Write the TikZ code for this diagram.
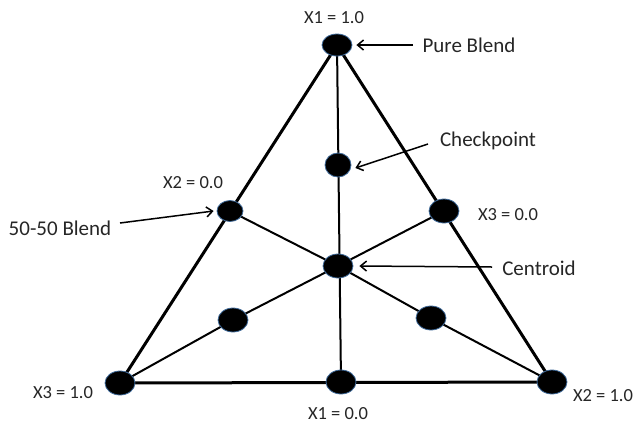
\documentclass[tikz,border=0pt]{standalone}
\usepackage{fontspec}
\setmainfont{Carlito}
\usetikzlibrary{arrows.meta,shapes.geometric}
\definecolor{txt}{HTML}{262626}
\definecolor{rim}{HTML}{3F6A9A}
\tikzset{
  dot/.style={ellipse, fill=black, draw=rim, line width=0.8pt, minimum width=30pt, minimum height=24pt, inner sep=0pt},
  lbl/.style={text=txt, font=\fontsize{18.5}{21}\selectfont, inner sep=0pt},
  wlbl/.style={text=txt, font=\fontsize{21}{24}\selectfont, inner sep=0pt},
  edge3/.style={line width=3pt},
  inner/.style={line width=2pt},
  callout/.style={line width=1.5pt, -{Straight Barb[length=6pt,width=10pt,line width=1.5pt]}},
}
\begin{document}
\begin{tikzpicture}[x=1pt,y=-1pt]
\useasboundingbox (0,0) rectangle (637,424);
% vertices and points
\coordinate (T) at (337,45);
\coordinate (BL) at (120,383);
\coordinate (BR) at (552,382);
\coordinate (BM) at (341,382);
\coordinate (LM) at (230,211);
\coordinate (RM) at (444,211);
\coordinate (C) at (338,266);
\coordinate (CT) at (338,165);
\coordinate (CL) at (233,320);
\coordinate (CR) at (431,318);
% edges
\draw[edge3] (T) -- (BL) -- (BR) -- cycle;
% inner lines
\draw[inner] (T) -- (BM);
\draw[inner] (LM) -- (C) -- (CR) -- (BR);
\draw[inner] (RM) -- (C) -- (CL) -- (BL);
% dots
\node[dot, minimum height=22pt] (nT) at (T) {};
\node[dot] (nBL) at (BL) {};
\node[dot] (nBR) at (BR) {};
\node[dot] (nBM) at (BM) {};
\node[dot, minimum width=26pt, minimum height=21pt] (nLM) at (LM) {};
\node[dot] (nRM) at (RM) {};
\node[dot] (nC) at (C) {};
\node[dot, minimum width=26pt] (nCT) at (CT) {};
\node[dot] (nCL) at (CL) {};
\node[dot] (nCR) at (CR) {};
% labels
\node[lbl] (lX1t) at (334,18) {X1 = 1.0};
\node[wlbl] (lPure) at (469,45) {Pure Blend};
\node[wlbl] (lCheck) at (488,141) {Checkpoint};
\node[lbl] (lX2z) at (193,183) {X2 = 0.0};
\node[wlbl] (l5050) at (60,228) {50-50 Blend};
\node[lbl] (lX3z) at (508,215) {X3 = 0.0};
\node[wlbl] (lCent) at (539,268) {Centroid};
\node[lbl] (lX3o) at (63,393) {X3 = 1.0};
\node[lbl] (lX1z) at (338,414) {X1 = 0.0};
\node[lbl] (lX2o) at (603,396) {X2 = 1.0};
% callouts
\coordinate (aP) at (413,45);
\coordinate (aCk) at (428,144);
\coordinate (a50) at (120,223);
\coordinate (aCe) at (492,267);
\draw[callout] (aP) -- ([xshift=4pt]nT.east);
\draw[callout] (aCk) -- ([xshift=4pt,yshift=-3pt]nCT.east);
\draw[callout] (a50) -- ([xshift=-3pt]nLM.west);
\draw[callout] (aCe) -- ([xshift=6pt]nC.east);
\end{tikzpicture}
\end{document}
